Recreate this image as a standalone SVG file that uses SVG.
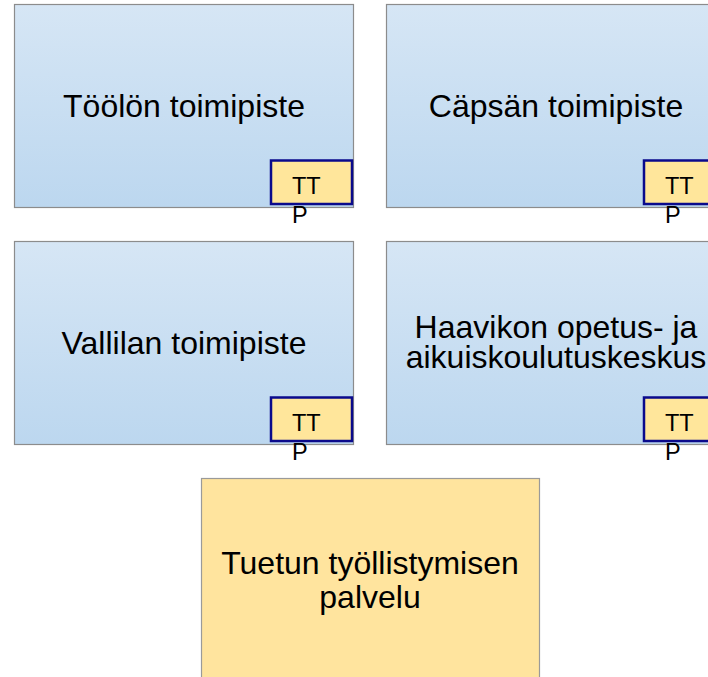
<svg xmlns="http://www.w3.org/2000/svg" width="708" height="677" viewBox="0 0 708 677">
<defs>
<linearGradient id="blueGrad" x1="0" y1="0" x2="0" y2="1">
<stop offset="0" stop-color="#D6E6F5"/>
<stop offset="1" stop-color="#BCD7EF"/>
</linearGradient>
<style>
.unit{fill:url(#blueGrad);stroke:#8C8C8C;stroke-width:1.2}
.ttp{fill:#FFE69B;stroke:#0A0A8C;stroke-width:2.5}
.main{fill:#FFE49E;stroke:#9A9A9A;stroke-width:1.2}
.lbl{font-family:"Liberation Sans",Arial,sans-serif;font-size:32px;fill:#000;text-anchor:middle}
.tag{font-family:"Liberation Sans",Arial,sans-serif;font-size:23.5px;fill:#000}
</style>
</defs>
<rect width="708" height="677" fill="#FFFFFF"/>
<g id="toolo">
<rect class="unit" x="14.5" y="4.5" width="339" height="203"/>
<text class="lbl" x="184" y="117">Töölön toimipiste</text>
<rect class="ttp" x="271" y="160.5" width="81" height="43.5"/>
<text class="tag" x="292" y="194">TT</text>
<text class="tag" x="292" y="223">P</text>
</g>
<g id="capsa">
<rect class="unit" x="386.5" y="4.5" width="339" height="203"/>
<text class="lbl" x="556" y="117">Cäpsän toimipiste</text>
<rect class="ttp" x="644" y="160.5" width="81" height="43.5"/>
<text class="tag" x="665" y="194">TT</text>
<text class="tag" x="665" y="223">P</text>
</g>
<g id="vallila">
<rect class="unit" x="14.5" y="241.5" width="339" height="203"/>
<text class="lbl" x="184" y="354">Vallilan toimipiste</text>
<rect class="ttp" x="271" y="397.5" width="81" height="43.5"/>
<text class="tag" x="292" y="431">TT</text>
<text class="tag" x="292" y="460">P</text>
</g>
<g id="haaviko">
<rect class="unit" x="386.5" y="241.5" width="339" height="203"/>
<text class="lbl" x="556" y="338">Haavikon opetus- ja</text>
<text class="lbl" x="556" y="368">aikuiskoulutuskeskus</text>
<rect class="ttp" x="644" y="397.5" width="81" height="43.5"/>
<text class="tag" x="665" y="431">TT</text>
<text class="tag" x="665" y="460">P</text>
</g>
<g id="tuetun">
<rect class="main" x="201.5" y="478.5" width="338" height="210"/>
<text class="lbl" x="370" y="574">Tuetun työllistymisen</text>
<text class="lbl" x="370" y="608">palvelu</text>
</g>
<g id="connectors"></g>
</svg>
